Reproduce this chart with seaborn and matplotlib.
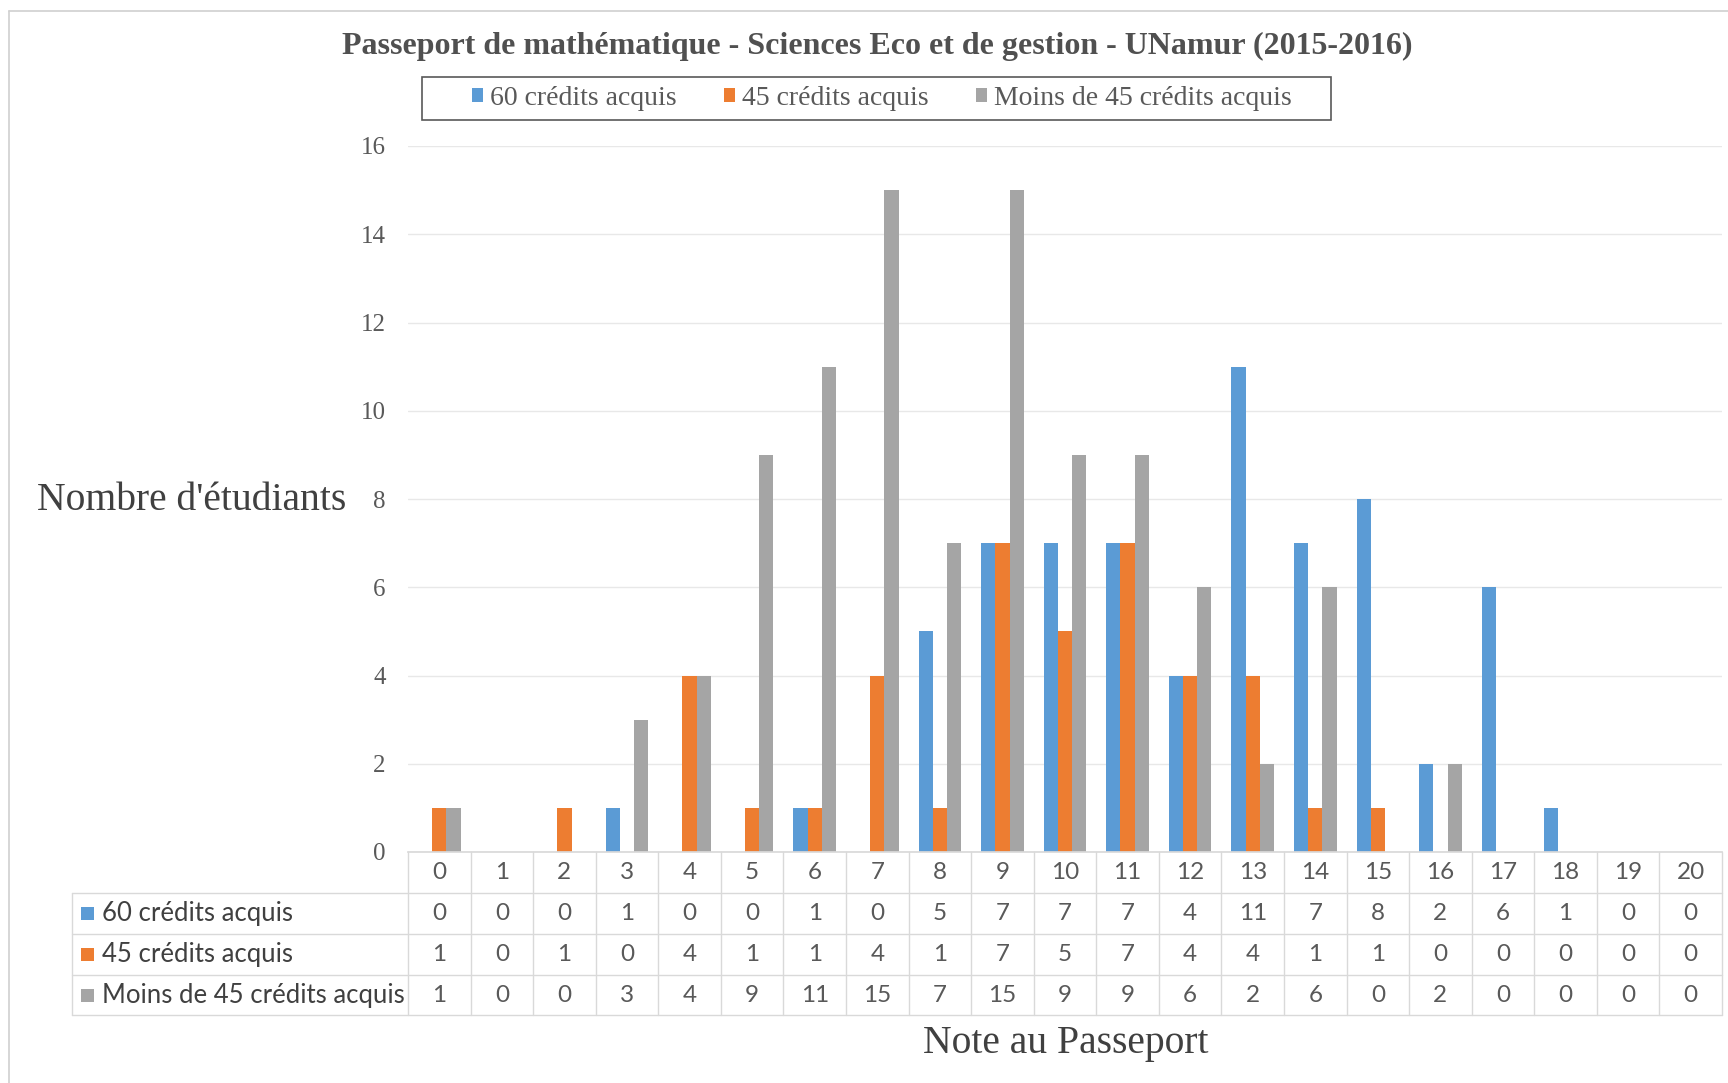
import matplotlib
matplotlib.use("Agg")
import matplotlib.pyplot as plt
import matplotlib.transforms as mtransforms
from matplotlib.patches import Rectangle, Patch
from matplotlib.lines import Line2D
import pandas as pd
import seaborn as sns

# --- data -------------------------------------------------------------
notes = list(range(21))
series_names = ["60 crédits acquis", "45 crédits acquis", "Moins de 45 crédits acquis"]
credits_60 = [0, 0, 0, 1, 0, 0, 1, 0, 5, 7, 7, 7, 4, 11, 7, 8, 2, 6, 1, 0, 0]
credits_45 = [1, 0, 1, 0, 4, 1, 1, 4, 1, 7, 5, 7, 4, 4, 1, 1, 0, 0, 0, 0, 0]
credits_moins45 = [1, 0, 0, 3, 4, 9, 11, 15, 7, 15, 9, 9, 6, 2, 6, 0, 2, 0, 0, 0, 0]
y_ticks = [0, 2, 4, 6, 8, 10, 12, 14, 16]

title = "Passeport de mathématique - Sciences Eco et de gestion - UNamur (2015-2016)"
y_label = "Nombre d'étudiants"
x_label = "Note au Passeport"

colors = ["#5B9BD5", "#ED7D31", "#A5A5A5"]
series_values = [credits_60, credits_45, credits_moins45]

df = pd.concat(
    [pd.DataFrame({"Note": notes, "Nombre": vals, "Série": name})
     for name, vals in zip(series_names, series_values)],
    ignore_index=True,
)

# --- figure -----------------------------------------------------------
W, H = 1728, 1083
def fx(px):
    return px / W
def fy(py):
    return 1 - py / H

sns.set_theme(style="white")
plt.rcParams["font.family"] = ["Liberation Serif", "DejaVu Serif"]

fig = plt.figure(figsize=(W / 100, H / 100), dpi=100)
fig.patch.set_facecolor("white")

ax_left, ax_right, ax_top, ax_bottom = 408, 1722, 146, 852
ax = fig.add_axes([fx(ax_left), fy(ax_bottom), fx(ax_right - ax_left), (ax_bottom - ax_top) / H])

sns.barplot(
    data=df, x="Note", y="Nombre", hue="Série",
    order=notes, hue_order=series_names, palette=colors,
    width=0.68, saturation=1, linewidth=0, errorbar=None,
    legend=False, ax=ax,
)

ax.set_xlim(-0.5, len(notes) - 0.5)
ax.set_ylim(0, 16)
ax.set_yticks(y_ticks)
ax.yaxis.grid(True, color="#E8E8E8", linewidth=1)
ax.set_axisbelow(True)
for side in ["left", "right", "top"]:
    ax.spines[side].set_visible(False)
ax.spines["bottom"].set_color("#D9D9D9")
ax.tick_params(axis="x", bottom=False, labelbottom=False)
ax.tick_params(axis="y", left=False, pad=10, labelsize=18, labelcolor="#595959")
ax.set_xlabel("")
ax.set_ylabel("")

# --- title, axis labels ----------------------------------------------
fig.text(fx(877), fy(46), title, ha="center", va="center",
         fontsize=23, fontweight="bold", color="#505050")
fig.text(fx(192), fy(501), y_label, ha="center", va="center",
         fontsize=28.5, color="#404040")
fig.text(fx(1066), fy(1044), x_label, ha="center", va="center",
         fontsize=28.5, color="#404040")

# --- legend -----------------------------------------------------------
fig.add_artist(Rectangle((fx(422), fy(120)), fx(1331 - 422), (120 - 77) / H,
                         transform=fig.transFigure, facecolor="white",
                         edgecolor="#595959", linewidth=1.2))
handles = [Patch(facecolor=c, edgecolor="none") for c in colors]
fig.legend(handles, series_names, loc="center", bbox_to_anchor=(fx(882), fy(98.5)),
           ncol=3, frameon=False, fontsize=20, handlelength=0.4, handleheight=0.4,
           handletextpad=0.25, columnspacing=1.7, labelcolor="#595959")

# --- data table -------------------------------------------------------
tbl_font = ["Lato", "DejaVu Sans"]
tbl_size = 17.5
line_col = "#D9D9D9"
blend = mtransforms.blended_transform_factory(ax.transData, fig.transFigure)
row_edges = [852, 893, 934, 975, 1015]
row_centers = [(a + b) / 2 for a, b in zip(row_edges[:-1], row_edges[1:])]
tbl_left = 72

# vertical lines between columns
for i in range(len(notes) + 1):
    fig.add_artist(Line2D([i - 0.5, i - 0.5], [fy(row_edges[0]), fy(row_edges[-1])],
                          transform=blend, color=line_col, linewidth=1))
# left edge of row label column
fig.add_artist(Line2D([fx(tbl_left), fx(tbl_left)], [fy(row_edges[1]), fy(row_edges[-1])],
                      transform=fig.transFigure, color=line_col, linewidth=1))
# horizontal lines
for r in row_edges[1:]:
    fig.add_artist(Line2D([fx(tbl_left), fx(ax_right)], [fy(r), fy(r)],
                          transform=fig.transFigure, color=line_col, linewidth=1))

# header row of notes
for i, n in enumerate(notes):
    fig.text(i, fy(row_centers[0]), str(n), transform=blend, ha="center", va="center",
             fontsize=tbl_size, family=tbl_font, color="#595959")

# series rows
for r, (name, vals, c) in enumerate(zip(series_names, series_values, colors)):
    yc = row_centers[r + 1]
    fig.add_artist(Rectangle((fx(81), fy(yc + 6.5)), fx(13), 13 / H,
                             transform=fig.transFigure, facecolor=c, edgecolor="none"))
    fig.text(fx(102), fy(yc), name, ha="left", va="center",
             fontsize=18.5, family=tbl_font, color="#404040")
    for i, v in enumerate(vals):
        fig.text(i, fy(yc), str(v), transform=blend, ha="center", va="center",
                 fontsize=tbl_size, family=tbl_font, color="#595959")

# outer frame of the chart area
fig.add_artist(Line2D([fx(9), fx(9)], [fy(11), 0], transform=fig.transFigure,
                      color="#D0D0D0", linewidth=1.2))
fig.add_artist(Line2D([fx(9), 1], [fy(11), fy(11)], transform=fig.transFigure,
                      color="#D0D0D0", linewidth=1.2))

fig.savefig("out.png", dpi=100, facecolor="white")
